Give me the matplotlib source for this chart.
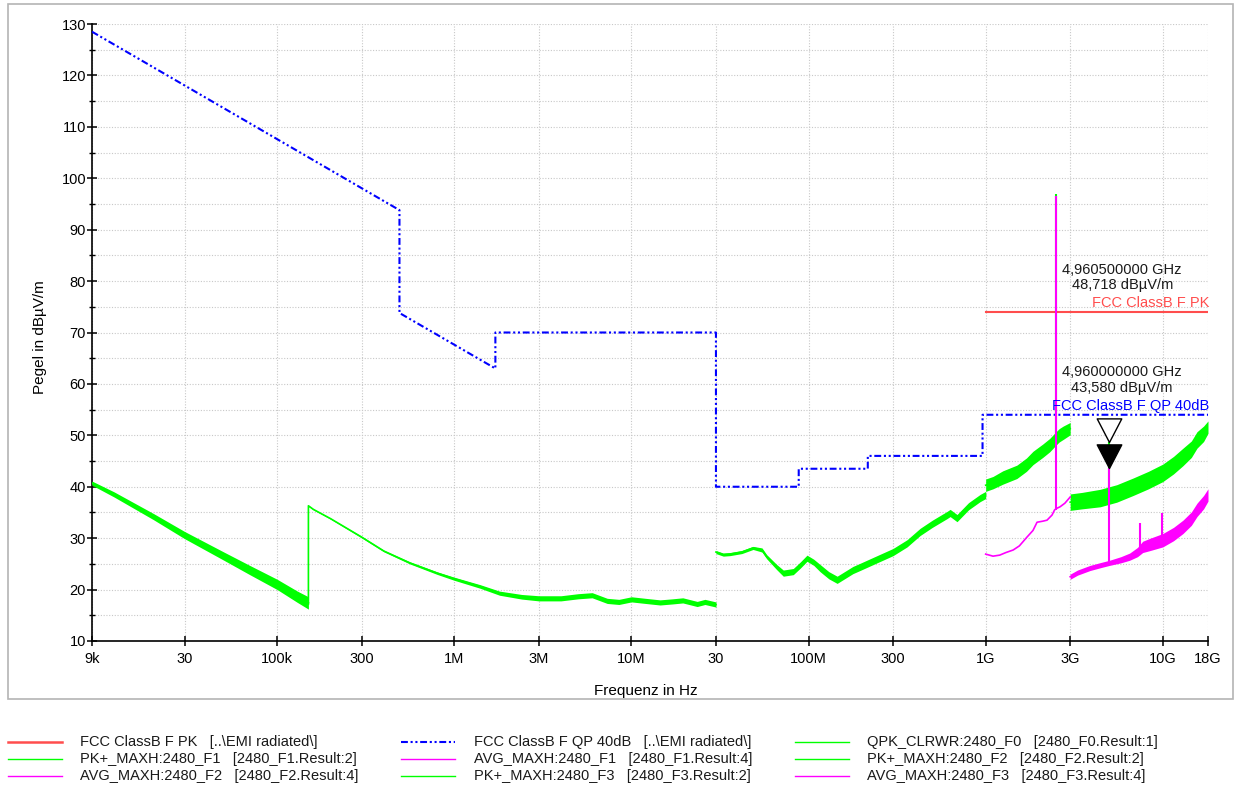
import matplotlib
matplotlib.use('Agg')
import numpy as np
import matplotlib.pyplot as plt
from matplotlib.lines import Line2D
from matplotlib.patches import Rectangle
from matplotlib.path import Path
from matplotlib.ticker import FixedLocator, MultipleLocator, NullLocator

plt.rcParams['font.family'] = ['Liberation Sans', 'DejaVu Sans']

W, H = 1234, 787

# ---- Grenzwerte ----
qp_f = [9e3, 490e3, 490e3, 1.705e6, 1.705e6, 30e6, 30e6, 88e6, 88e6, 216e6, 216e6, 960e6, 960e6, 18e9]
qp_lvl = [128.5, 93.8, 73.8, 63.0, 70.0, 70.0, 40.0, 40.0, 43.5, 43.5, 46.0, 46.0, 54.0, 54.0]
pk_f = [1e9, 18e9]
pk_lvl = [74.0, 74.0]

# ---- Messkurven (gruen, PK/QPK): Mitte und halbe Bandbreite ----
g1_f = [9e3, 12e3, 20e3, 30e3, 50e3, 70e3, 100e3, 130e3, 150e3]
g1_c = [40.7, 38.5, 34.2, 30.6, 26.5, 23.8, 21.0, 18.6, 17.4]
g1_w = [0.4, 0.5, 0.6, 0.7, 0.8, 0.9, 1.0, 1.1, 1.2]

g2_f = [150e3, 150e3, 160e3, 200e3, 300e3, 400e3, 560e3, 800e3, 1e6, 1.4e6, 1.8e6, 2.4e6, 3e6,
        4e6, 5e6, 6e6, 7.3e6, 8.5e6, 10e6, 12e6, 14.5e6, 17e6, 19.5e6, 23.5e6, 26e6, 30e6]
g2_c = [17.2, 36.3, 35.6, 33.8, 30.2, 27.5, 25.2, 23.2, 22.1, 20.6, 19.3, 18.6, 18.3,
        18.3, 18.7, 18.9, 17.8, 17.6, 18.1, 17.8, 17.5, 17.7, 17.9, 17.2, 17.6, 17.1]
g2_w = [0.1, 0.1, 0.1, 0.1, 0.15, 0.15, 0.2, 0.25, 0.3, 0.35, 0.4, 0.45, 0.5,
        0.5, 0.5, 0.5, 0.5, 0.5, 0.5, 0.5, 0.5, 0.5, 0.5, 0.5, 0.5, 0.5]

g3_f = [30e6, 33e6, 36e6, 42e6, 48.6e6, 54.6e6, 58e6, 66e6, 72e6, 82e6, 90e6, 98e6, 107e6, 116e6,
        130e6, 145e6, 178e6, 195e6, 240e6, 300e6, 360e6, 426e6, 500e6, 605e6, 630e6, 689e6,
        800e6, 930e6, 1e9]
g3_c = [27.3, 26.8, 26.9, 27.3, 28.1, 27.7, 26.4, 24.4, 23.2, 23.5, 24.8, 26.1, 25.3, 24.2,
        22.8, 21.9, 23.8, 24.4, 25.8, 27.3, 29.0, 31.2, 32.8, 34.5, 34.9, 33.9,
        36.2, 37.8, 38.4]
g3_w = [0.3, 0.3, 0.3, 0.3, 0.3, 0.4, 0.4, 0.5, 0.6, 0.6, 0.6, 0.6, 0.6, 0.7,
        0.7, 0.7, 0.7, 0.7, 0.7, 0.7, 0.7, 0.7, 0.7, 0.7, 0.7, 0.7,
        0.7, 0.7, 0.7]

g4_f = [1e9, 1.1e9, 1.25e9, 1.5e9, 1.7e9, 1.85e9, 2.1e9, 2.3e9, 2.48e9, 2.6e9, 2.74e9, 3e9]
g4_c = [40.3, 40.8, 41.8, 42.9, 44.3, 45.6, 47.0, 48.1, 49.3, 50.0, 50.5, 51.3]
g4_w = [1.2, 1.2, 1.3, 1.3, 1.3, 1.3, 1.3, 1.3, 1.3, 1.3, 1.3, 1.2]

g5_f = [3e9, 3.5e9, 4.43e9, 5.5e9, 6.8e9, 8.3e9, 10e9, 11.5e9, 13e9, 14.5e9, 15.6e9, 17e9, 18e9]
g5_c = [37.0, 37.3, 37.8, 38.7, 40.0, 41.3, 42.7, 44.2, 45.8, 47.3, 49.1, 50.3, 51.6]
g5_w = [1.6, 1.6, 1.7, 1.7, 1.7, 1.7, 1.7, 1.7, 1.7, 1.6, 1.6, 1.5, 1.2]

# ---- AVG (magenta) ----
m4_f = [1e9, 1.1e9, 1.2e9, 1.3e9, 1.43e9, 1.55e9, 1.71e9, 1.85e9, 1.95e9, 2.1e9, 2.22e9,
        2.37e9, 2.45e9, 2.52e9, 2.63e9, 2.8e9, 3e9]
m4_c = [26.9, 26.5, 26.7, 27.2, 27.7, 28.5, 30.2, 31.5, 33.1, 33.3, 33.5,
        34.5, 35.5, 35.8, 36.1, 36.8, 38.0]

m5_f = [3e9, 3.3e9, 3.88e9, 4.5e9, 5e9, 5.8e9, 6.5e9, 7.2e9, 7.7e9, 8.5e9, 10e9,
        11.5e9, 13e9, 14.5e9, 15.6e9, 17e9, 18e9]
m5_c = [22.5, 23.3, 24.2, 24.8, 25.2, 25.8, 26.4, 27.3, 28.3, 28.8, 29.6,
        30.8, 32.2, 33.8, 35.5, 37.0, 38.4]
m5_w = [0.5, 0.5, 0.5, 0.5, 0.5, 0.6, 0.7, 0.9, 1.1, 1.2, 1.3,
        1.3, 1.3, 1.3, 1.3, 1.3, 1.2]

# Einzelne Spitzen
spk_f = [2.48e9, 4.96e9, 7.44e9, 9.92e9]
spk_lo = [35.5, 25.3, 28.0, 29.5]
spk_hi = [96.5, 43.58, 33.0, 34.8]
gspk_f = [2.48e9, 4.9605e9]
gspk_lo = [49.0, 38.0]
gspk_hi = [97.0, 48.718]

# Marker
mk_f = [4.9605e9, 4.96e9]
mk_lvl = [48.718, 43.58]
mk_txt = ['4,960500000 GHz\n48,718 dBµV/m', '4,960000000 GHz\n43,580 dBµV/m']

x_ticks = [9e3, 30e3, 100e3, 300e3, 1e6, 3e6, 10e6, 30e6, 100e6, 300e6, 1e9, 3e9, 10e9, 18e9]
x_labels = ['9k', '30', '100k', '300', '1M', '3M', '10M', '30', '100M', '300', '1G', '3G', '10G', '18G']

legend_items = [
    ('FCC ClassB F PK   [..\\EMI radiated\\]', '#ff4d4d', '-', 1.8),
    ('FCC ClassB F QP 40dB   [..\\EMI radiated\\]', '#0000ff', (0, (3.3, 1.3, 1, 1.3, 1, 1.3)), 1.5),
    ('QPK_CLRWR:2480_F0   [2480_F0.Result:1]', '#00ff00', '-', 1.0),
    ('PK+_MAXH:2480_F1   [2480_F1.Result:2]', '#00ff00', '-', 1.0),
    ('AVG_MAXH:2480_F1   [2480_F1.Result:4]', '#ff00ff', '-', 1.0),
    ('PK+_MAXH:2480_F2   [2480_F2.Result:2]', '#00ff00', '-', 1.0),
    ('AVG_MAXH:2480_F2   [2480_F2.Result:4]', '#ff00ff', '-', 1.0),
    ('PK+_MAXH:2480_F3   [2480_F3.Result:2]', '#00ff00', '-', 1.0),
    ('AVG_MAXH:2480_F3   [2480_F3.Result:4]', '#ff00ff', '-', 1.0),
]

GREEN = '#00ff00'
MAG = '#ff00ff'
BLUE = '#0000ff'
RED = '#ff4d4d'

fig = plt.figure(figsize=(W / 100, H / 100), dpi=100)
fig.patch.set_facecolor('white')

# grauer Rahmen um das Diagramm
fig.patches.append(Rectangle((8 / W, 1 - 699 / H), 1225 / W, 695 / H, transform=fig.transFigure,
                             fill=False, edgecolor='#b4b4b4', linewidth=1.2))

ax = fig.add_axes([92 / W, 1 - 641 / H, 1116 / W, 617 / H])
ax.set_xscale('log')
ax.set_xlim(9e3, 18e9)
ax.set_ylim(10, 130)

ax.xaxis.set_major_locator(FixedLocator(x_ticks))
ax.xaxis.set_minor_locator(NullLocator())
ax.set_xticklabels(x_labels)
ax.yaxis.set_major_locator(MultipleLocator(10))
ax.yaxis.set_minor_locator(MultipleLocator(5))

ax.grid(True, which='major', axis='x', color='#c8c8c8', linestyle=(0, (1, 1.5)), linewidth=0.8)
ax.grid(True, which='both', axis='y', color='#c8c8c8', linestyle=(0, (1, 1.5)), linewidth=0.8)
ax.set_axisbelow(True)

for s in ['top', 'right']:
    ax.spines[s].set_visible(False)
for s in ['left', 'bottom']:
    ax.spines[s].set_linewidth(1.2)

ax.tick_params(axis='both', which='major', direction='inout', length=6.5, width=1.1,
               labelsize=10.5, colors='black')
ax.tick_params(axis='y', which='minor', direction='inout', length=5, width=1.0)
ax.tick_params(axis='y', which='major', pad=1)
ax.tick_params(axis='x', which='major', pad=5)

# Grenzwertlinien
ax.plot(pk_f, pk_lvl, color=RED, linewidth=1.5, zorder=3)
ax.plot(qp_f, qp_lvl, color=BLUE, linewidth=1.5, linestyle=(0, (3.3, 1.3, 1, 1.3, 1, 1.3)), zorder=3)

# gruene Kurven als Band
for f, c, w in [(g1_f, g1_c, g1_w), (g2_f, g2_c, g2_w), (g3_f, g3_c, g3_w),
                (g4_f, g4_c, g4_w), (g5_f, g5_c, g5_w)]:
    c = np.array(c)
    w = np.array(w)
    ax.fill_between(f, c - w, c + w, color=GREEN, linewidth=0, zorder=4)
    ax.plot(f, c, color=GREEN, linewidth=1.2, zorder=4)
ax.vlines(gspk_f, gspk_lo, gspk_hi, color=GREEN, linewidth=1.5, zorder=4)

# AVG Kurven
ax.plot(m4_f, m4_c, color=MAG, linewidth=1.2, zorder=5)
m5_c_a = np.array(m5_c)
m5_w_a = np.array(m5_w)
ax.fill_between(m5_f, m5_c_a - m5_w_a, m5_c_a + m5_w_a, color=MAG, linewidth=0, zorder=5)
ax.plot(m5_f, m5_c, color=MAG, linewidth=1.2, zorder=5)
ax.vlines(spk_f, spk_lo, spk_hi, color=MAG, linewidth=1.5, zorder=5)

# Marker (Dreieck mit Spitze auf dem Messwert)
tri = Path([(0, 0), (-0.52, 1), (0.52, 1), (0, 0)], closed=True)
ax.plot(mk_f[0], mk_lvl[0], marker=tri, markersize=34, markerfacecolor='white',
        markeredgecolor='black', markeredgewidth=1.0, linestyle='none', zorder=7)
ax.plot(mk_f[1], mk_lvl[1], marker=tri, markersize=34, markerfacecolor='black',
        markeredgecolor='black', markeredgewidth=1.0, linestyle='none', zorder=7)

# Beschriftungen der Marker und Grenzwerte
ax.text(5.9e9, 80.7, mk_txt[0], ha='center', va='center', fontsize=10.5,
        color='#1a1a1a', linespacing=1.15, zorder=8)
ax.text(18.3e9, 74.4, 'FCC ClassB F PK', ha='right', va='bottom', fontsize=10.5, color=RED, zorder=8)
ax.text(5.9e9, 60.8, mk_txt[1], ha='center', va='center', fontsize=10.5,
        color='#1a1a1a', linespacing=1.15, zorder=8)
ax.text(18.3e9, 54.4, 'FCC ClassB F QP 40dB', ha='right', va='bottom', fontsize=10.5, color=BLUE, zorder=8)

# Achsentitel
fig.text(40 / W, 1 - 337 / H, 'Pegel in dBµV/m', rotation=90, ha='center', va='center', fontsize=11)
fig.text(646 / W, 1 - 691 / H, 'Frequenz in Hz', ha='center', va='center', fontsize=11)

# Legende unten (3 Spalten)
col_line = [8, 401, 795]
col_text = [80, 474, 867]
row_y = [742, 759, 776]
for i, (lab, col, ls, lw) in enumerate(legend_items):
    r, k = divmod(i, 3)
    y = 1 - row_y[r] / H
    fig.add_artist(Line2D([col_line[k] / W, (col_line[k] + 54) / W], [y, y],
                          transform=fig.transFigure, color=col, linestyle=ls, linewidth=lw))
    fig.text(col_text[k] / W, y, lab, ha='left', va='center', fontsize=10.5, color='#1a1a1a')

fig.savefig('out.png', dpi=100)
